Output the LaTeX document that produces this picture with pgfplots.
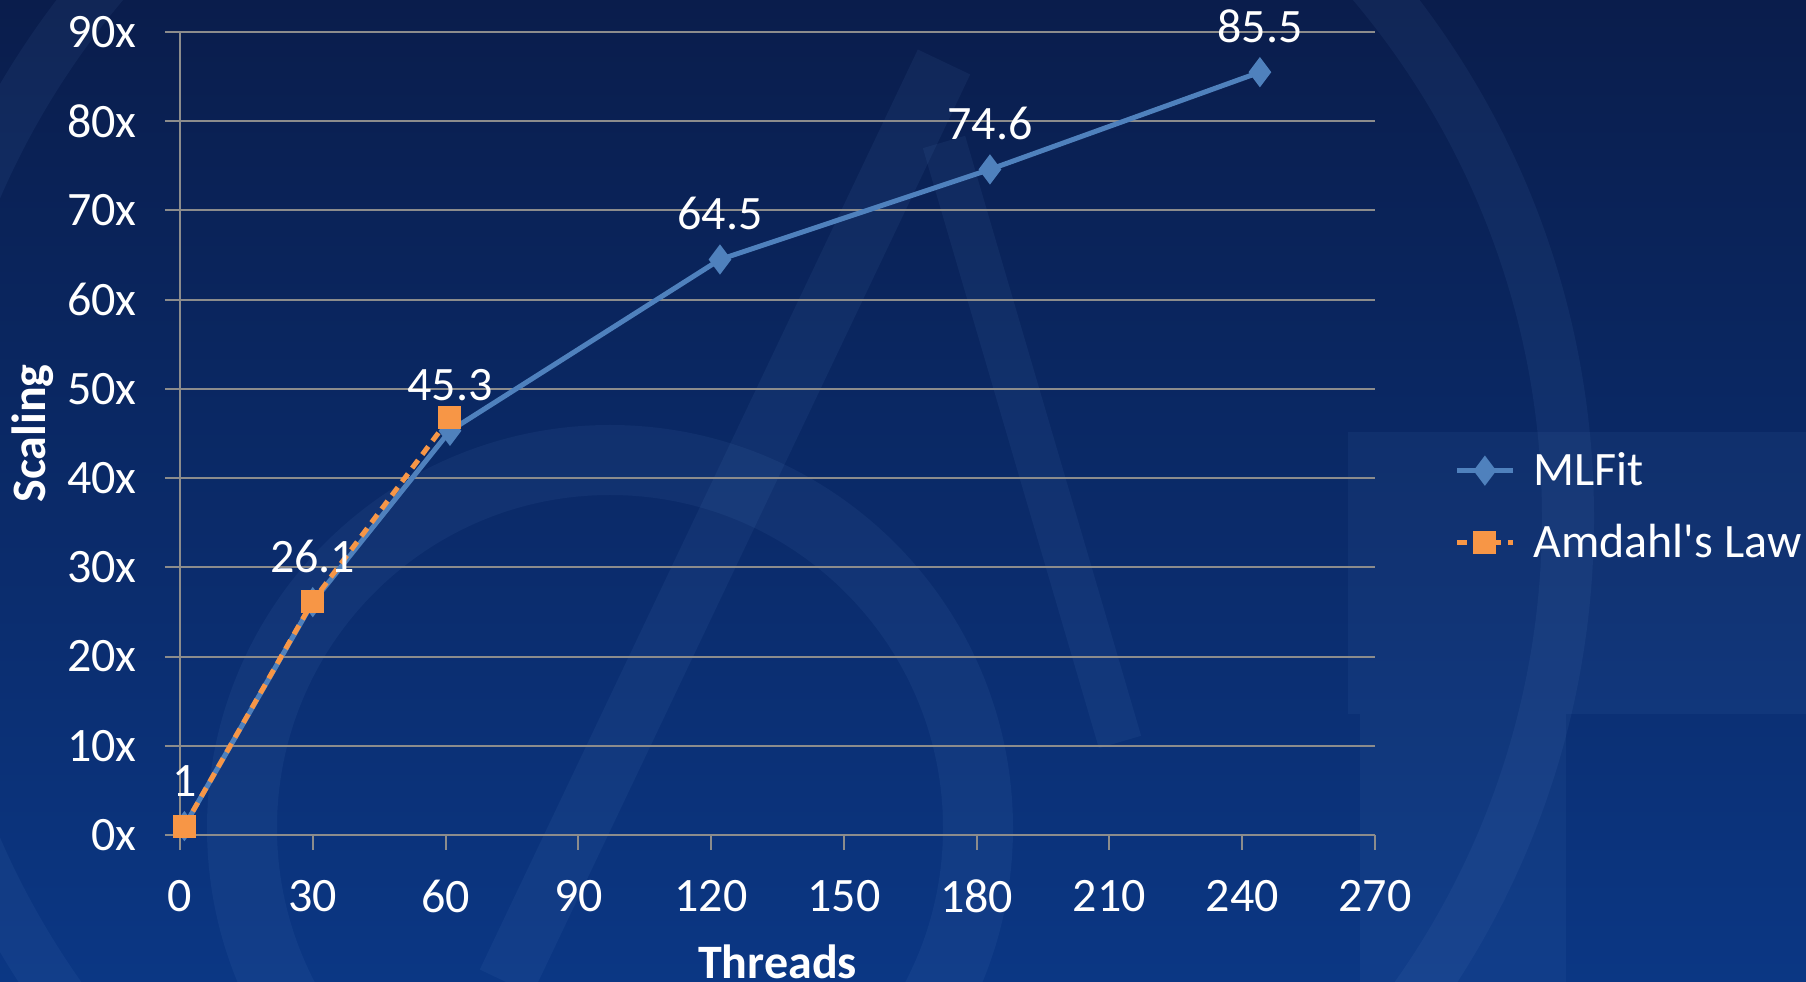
\documentclass[border=0pt]{standalone}
\usepackage{fontspec}
\setmainfont{Carlito}[Ligatures=TeXOff]
\usepackage{pgfplots}
\pgfplotsset{compat=1.18}

\definecolor{bgtop}{HTML}{0A1D4C}
\definecolor{bgbot}{HTML}{0B3784}
\definecolor{mlblue}{HTML}{4F81BD}
\definecolor{amdorange}{HTML}{F79646}
\definecolor{gridgray}{HTML}{8C8C8C}
\definecolor{swirl}{HTML}{6A9AD8}

\pgfplotstableread{
threads scaling
1    1
30   26.1
61   45.3
122  64.5
183  74.6
244  85.5
}\mlfit

\pgfplotstableread{
threads scaling
1    1
30   26.2
61   46.8
}\amdahl

\newcommand{\tickfont}{\fontsize{24bp}{28bp}\selectfont}
\newcommand{\labelfont}{\fontsize{24bp}{28bp}\selectfont}

\begin{document}
\begin{tikzpicture}
\useasboundingbox (0,0) rectangle (903bp,491bp);
\clip (0,0) rectangle (903bp,491bp);
% slide background with faint swirl pattern
\shade[top color=bgtop, bottom color=bgbot] (0,0) rectangle (903bp,491bp);
\begin{scope}[draw=swirl, opacity=0.08]
  \draw[line width=35bp] (305bp,77bp) circle (184bp);
  \draw[line width=26bp] (369bp,232bp) circle (415bp);
  \draw[line width=29bp] (253bp,0bp) -- (472bp,460bp);
  \draw[line width=22bp] (472bp,420bp) -- (560bp,120bp);
\end{scope}
\fill[swirl, opacity=0.07] (674bp,134bp) rectangle (903bp,275bp);
\fill[swirl, opacity=0.07] (680bp,0bp) rectangle (783bp,134bp);

\begin{axis}[
  at={(90bp,73.5bp)}, anchor=south west,
  scale only axis, width=597.5bp, height=401.5bp,
  xmin=0, xmax=270, ymin=0, ymax=90,
  xtick={0,30,...,270}, ytick={0,10,...,90},
  /pgf/number format/assume math mode=true,
  yticklabel={\pgfmathprintnumber{\tick}x},
  axis lines*=left,
  axis line style={gridgray, line width=1bp},
  ymajorgrids,
  major grid style={gridgray, line width=1bp},
  tick align=outside,
  major tick length=7.5bp,
  tick style={gridgray, line width=1bp},
  ticklabel style={font=\tickfont, text=white},
  xticklabel style={anchor=center, inner sep=0pt, yshift=-23bp},
  yticklabel style={anchor=east, inner sep=0pt, xshift=-14bp},
  xlabel={Threads},
  ylabel={Scaling},
  label style={font=\tickfont\bfseries, text=white},
  xlabel style={at={(axis description cs:0.5,-0.1793)}, anchor=base},
  ylabel style={at={(axis description cs:-0.1125,0.5)}, anchor=base},
  legend style={draw=none, fill=none, text=white, font=\labelfont,
    at={(axis description cs:1.0661,0.4087)}, anchor=west,
    inner sep=0pt, row sep=16bp,
    nodes={inner sep=1bp},
    /tikz/every odd column/.append style={column sep=8bp}},
  legend cell align=left,
  legend image code/.code={
    \draw[mark repeat=2, mark phase=2, #1]
      plot coordinates {(0bp,0bp) (14bp,0bp) (28bp,0bp)};},
  clip=false,
]
\addplot[mlblue, line width=2.5bp, mark=diamond*, mark size=5.5bp,
  mark options={solid, fill=mlblue},
  point meta=y, nodes near coords,
  every node near coord/.append style={font=\labelfont, text=white,
    anchor=base, inner sep=0pt, yshift=15bp}]
  table[x=threads, y=scaling] {\mlfit};
\addlegendentry{MLFit}

\addplot[amdorange, line width=2.5bp, dash pattern=on 5bp off 3.5bp,
  mark=square*, mark size=4.5bp, mark options={solid, fill=amdorange}]
  table[x=threads, y=scaling] {\amdahl};
\addlegendentry{Amdahl's Law}
\end{axis}
\end{tikzpicture}
\end{document}
